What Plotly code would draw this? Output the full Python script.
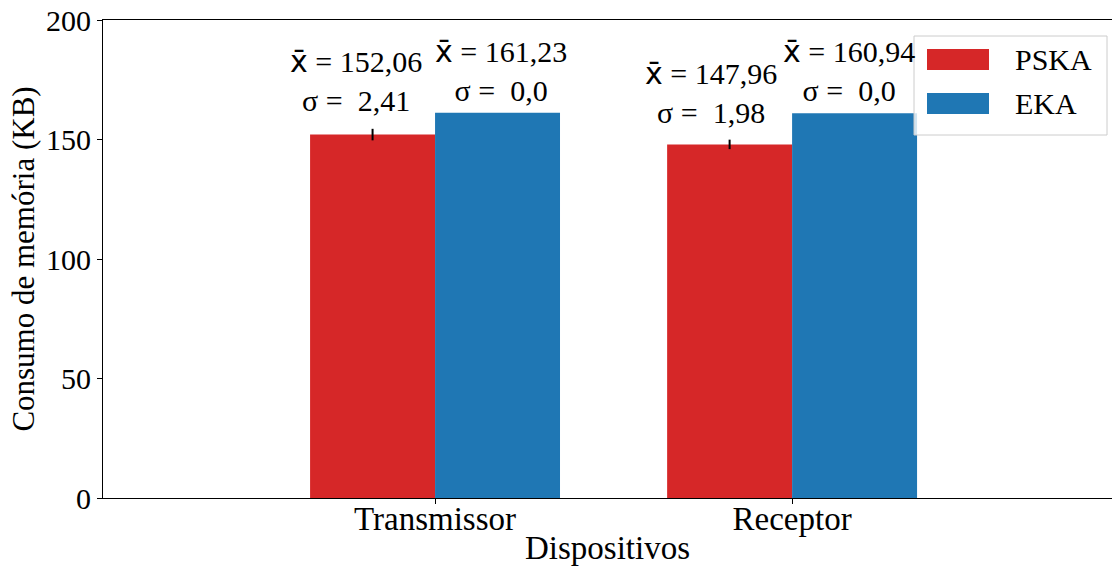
import plotly.graph_objects as go
import numpy as np

categories = ["Transmissor", "Receptor"]
series_names = ["PSKA", "EKA"]
pska_mean = [152.06, 147.96]
pska_std = [2.41, 1.98]
eka_mean = [161.23, 160.94]
eka_std = [0.0, 0.0]
pska_mean_txt = ["152,06", "147,96"]
pska_std_txt = ["2,41", "1,98"]
eka_mean_txt = ["161,23", "160,94"]
eka_std_txt = ["0,0", "0,0"]
yticks = [0, 50, 100, 150, 200]

RED = "#d62728"
BLUE = "#1f77b4"
FONT = "Liberation Serif"
FS = 30
FSX = 33

W, H = 1112, 568
L, R, T, B = 103, 1112, 20, 498
bw = 0.35
pos = np.arange(len(categories))

fig = go.Figure()
fig.add_trace(go.Bar(
    x=pos - bw / 2, y=pska_mean, width=bw, name="PSKA", marker_color=RED,
    marker_line_width=0,
    error_y=dict(type="data", array=pska_std, visible=True, color="black",
                 thickness=2, width=0),
    showlegend=False))
fig.add_trace(go.Bar(
    x=pos + bw / 2, y=eka_mean, width=bw, name="EKA", marker_color=BLUE,
    marker_line_width=0,
    error_y=dict(type="data", array=eka_std, visible=True, color="black",
                 thickness=2, width=0),
    showlegend=False))

XB = '<span style="font-family:\'DejaVu Sans\'">x\u0304</span>'

def serif(s):
    return f'<span style="font-family:\'Liberation Serif\'">{s}</span>'

def add_labels(xs, means, stds, mtxt, stxt, xshifts):
    for x, m, s, mt, st, xs_ in zip(xs, means, stds, mtxt, stxt, xshifts):
        fig.add_annotation(
            x=x, y=m + 2 * s, xref="x", yref="y",
            text=XB + serif(f" = {mt}") + "<br>" + serif(f"\u03c3 = \u00a0{st}"),
            showarrow=False, yanchor="bottom", xanchor="center",
            align="center", borderpad=0, yshift=5, xshift=xs_,
            font=dict(family=FONT, size=FS, color="black"))

add_labels(pos - bw / 2, pska_mean, pska_std, pska_mean_txt, pska_std_txt, [-17, -19])
add_labels(pos + bw / 2, eka_mean, eka_std, eka_mean_txt, eka_std_txt, [3, -6])

def px(xp):
    return (xp - L) / (R - L)

def py(yp):
    return (B - yp) / (B - T)

# legend (drawn manually to match the large swatches)
fig.add_shape(type="rect", xref="paper", yref="paper",
              x0=px(914), x1=px(1107), y0=py(135), y1=py(36),
              line=dict(color="#cccccc", width=1),
              fillcolor="rgba(255,255,255,0.8)", layer="above")
for name, col, yc in [(series_names[0], RED, 59.5), (series_names[1], BLUE, 103.5)]:
    fig.add_shape(type="rect", xref="paper", yref="paper",
                  x0=px(927), x1=px(989), y0=py(yc + 10.5), y1=py(yc - 10.5),
                  line=dict(width=0), fillcolor=col, layer="above")
    fig.add_annotation(xref="paper", yref="paper", x=px(1014), y=py(yc),
                       text=name, showarrow=False, xanchor="left",
                       yanchor="middle", borderpad=0,
                       font=dict(family=FONT, size=FS, color="black"))

fig.update_layout(
    width=W, height=H,
    margin=dict(l=L, r=W - R, t=T, b=H - B, autoexpand=False),
    paper_bgcolor="white", plot_bgcolor="white",
    font=dict(family=FONT, size=FS, color="black"),
    barmode="overlay",
    xaxis=dict(range=[-0.930, 1.896], tickvals=list(pos), automargin=True,
               ticktext=categories, ticks="outside", ticklen=5, tickwidth=1,
               tickcolor="black", showline=True, linecolor="black",
               linewidth=1, mirror=True, showgrid=False, zeroline=False,
               ticklabelstandoff=-14,
               title=dict(text="Dispositivos", standoff=0,
                          font=dict(family=FONT, size=FSX)),
               tickfont=dict(family=FONT, size=FSX)),
    yaxis=dict(range=[0, 200], tickvals=yticks, ticks="outside", ticklen=5,
               tickwidth=1, tickcolor="black", showline=True, automargin=True,
               linecolor="black", linewidth=1, showgrid=False,
               zeroline=False,
               title=dict(text="Consumo de memória (KB)", standoff=2,
                          font=dict(family=FONT, size=31)),
               tickfont=dict(family=FONT, size=FS)),
)

fig.write_html("out.html", config={"displayModeBar": False},
               post_script="document.body.style.margin='0';document.body.style.padding='0';")
